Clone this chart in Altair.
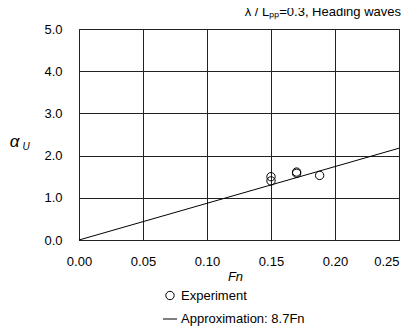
import altair as alt
import pandas as pd

# Experiment data
exp_fn = [0.150, 0.150, 0.170, 0.170, 0.188]
exp_alpha = [1.40, 1.50, 1.58, 1.61, 1.53]

# Approximation line alpha = 8.7 Fn
approx_fn = [0.0, 0.25]
coef = 8.7
approx_alpha = [coef * f for f in approx_fn]

x_ticks = [0, 0.05, 0.10, 0.15, 0.20, 0.25]
y_ticks = [0, 1, 2, 3, 4, 5]

series_names = ["Experiment", "Approximation: 8.7Fn"]

exp_df = pd.DataFrame({"Fn": exp_fn, "alpha": exp_alpha, "series": series_names[0]})
line_df = pd.DataFrame({"Fn": approx_fn, "alpha": approx_alpha, "series": series_names[1]})

FONT = "Liberation Sans"

x_enc = alt.X("Fn:Q", scale=alt.Scale(domain=[0, 0.25], nice=False),
              axis=alt.Axis(values=x_ticks, format=".2f",
                            title="Fn", titleFontStyle="italic", titleFontWeight="normal",
                            titleFontSize=13, titleX=156, titleY=36, titleBaseline="middle",
                            labelPadding=15, labelFlush=False, ticks=False,
                            labelAlign=alt.condition("datum.value >= 0.25",
                                                     alt.value("right"), alt.value("center"))))
y_enc = alt.Y("alpha:Q", scale=alt.Scale(domain=[0, 5], nice=False),
              axis=alt.Axis(values=y_ticks, format=".1f",
                            title="α", titleAngle=0, titleFontStyle="italic",
                            titleFontWeight="normal", titleFontSize=17,
                            titleX=-65, titleY=112, titleBaseline="middle", titleAlign="center",
                            labelPadding=17, labelFlush=False, ticks=False))

shape_scale = alt.Scale(domain=series_names, range=["circle", "stroke"])
size_scale = alt.Scale(domain=series_names, range=[70, 200])

legend = alt.Legend(title=None, orient="none", legendX=83, legendY=260,
                    direction="vertical", labelFontSize=13, labelFont=FONT,
                    rowPadding=8, labelOffset=3, symbolStrokeColor="black",
                    symbolStrokeWidth=1)

points = alt.Chart(exp_df).mark_point(filled=False, color="black", strokeWidth=1, opacity=1).encode(
    x=x_enc, y=y_enc,
    shape=alt.Shape("series:N", scale=shape_scale, legend=legend),
    size=alt.Size("series:N", scale=size_scale, legend=legend),
)

line = alt.Chart(line_df).mark_line(color="black", strokeWidth=1).encode(
    x="Fn:Q", y="alpha:Q"
)

sub_df = pd.DataFrame({"t": ["U"]})
sub = alt.Chart(sub_df).mark_text(font=FONT, fontSize=10, fontStyle="italic", align="center",
                                  baseline="middle", color="black").encode(
    x=alt.value(-53), y=alt.value(118), text="t:N")

chart = alt.layer(line, points, sub).properties(
    width=320, height=211,
    title=alt.TitleParams("λ   /  Lₚₚ=0.3, Heading waves", anchor="end", fontSize=13,
                          font=FONT, fontWeight="normal", offset=4, color="black"),
    autosize=alt.AutoSizeParams(type="none"),
    padding={"left": 71, "top": 21, "right": 2, "bottom": 87},
).configure_axis(
    grid=True, gridColor="#222222", gridOpacity=1, gridWidth=1,
    domainColor="#222222", domainWidth=1,
    labelFont=FONT, labelFontSize=13, labelColor="black",
    titleFont=FONT, titleColor="black",
).configure_view(stroke="#222222", strokeWidth=1).configure_legend(
    labelColor="black"
)

chart.save("out.html", embed_options={"renderer": "svg", "actions": False})
